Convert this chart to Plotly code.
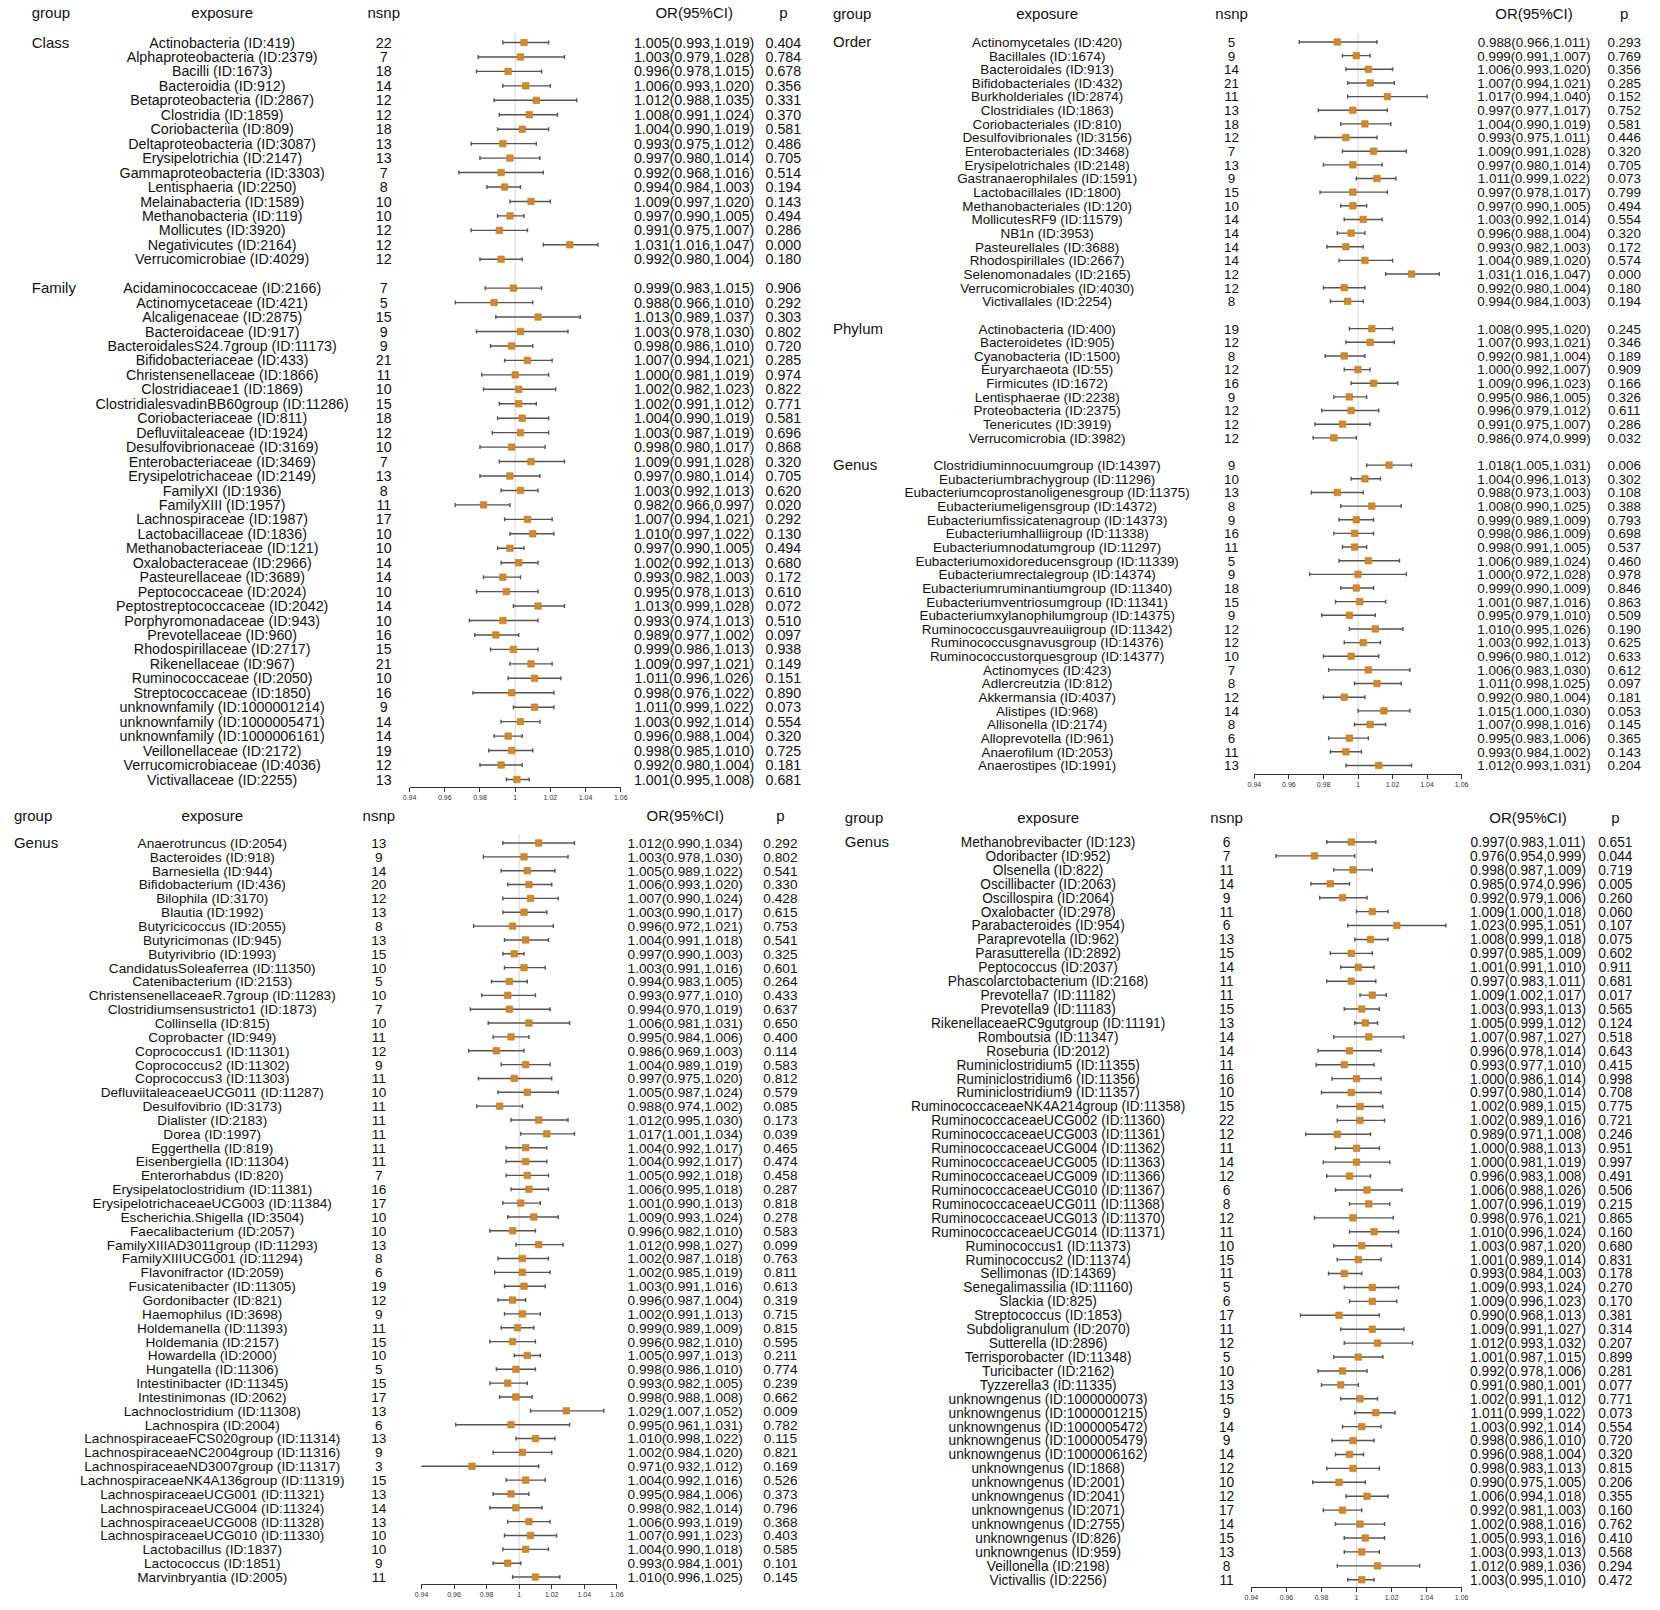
import plotly.graph_objects as go

W, H = 1660, 1610

# ---------------- DATA ----------------
# Top-left panel
tl_sections = ["Class", "Family"]
tl_counts = [16, 35]
tl_exposure = [
    "Actinobacteria (ID:419)", "Alphaproteobacteria (ID:2379)", "Bacilli (ID:1673)", "Bacteroidia (ID:912)",
    "Betaproteobacteria (ID:2867)", "Clostridia (ID:1859)", "Coriobacteriia (ID:809)", "Deltaproteobacteria (ID:3087)",
    "Erysipelotrichia (ID:2147)", "Gammaproteobacteria (ID:3303)", "Lentisphaeria (ID:2250)", "Melainabacteria (ID:1589)",
    "Methanobacteria (ID:119)", "Mollicutes (ID:3920)", "Negativicutes (ID:2164)", "Verrucomicrobiae (ID:4029)",
    "Acidaminococcaceae (ID:2166)", "Actinomycetaceae (ID:421)", "Alcaligenaceae (ID:2875)", "Bacteroidaceae (ID:917)",
    "BacteroidalesS24.7group (ID:11173)", "Bifidobacteriaceae (ID:433)", "Christensenellaceae (ID:1866)",
    "Clostridiaceae1 (ID:1869)", "ClostridialesvadinBB60group (ID:11286)", "Coriobacteriaceae (ID:811)",
    "Defluviitaleaceae (ID:1924)", "Desulfovibrionaceae (ID:3169)", "Enterobacteriaceae (ID:3469)",
    "Erysipelotrichaceae (ID:2149)", "FamilyXI (ID:1936)", "FamilyXIII (ID:1957)", "Lachnospiraceae (ID:1987)",
    "Lactobacillaceae (ID:1836)", "Methanobacteriaceae (ID:121)", "Oxalobacteraceae (ID:2966)",
    "Pasteurellaceae (ID:3689)", "Peptococcaceae (ID:2024)", "Peptostreptococcaceae (ID:2042)",
    "Porphyromonadaceae (ID:943)", "Prevotellaceae (ID:960)", "Rhodospirillaceae (ID:2717)", "Rikenellaceae (ID:967)",
    "Ruminococcaceae (ID:2050)", "Streptococcaceae (ID:1850)", "unknownfamily (ID:1000001214)",
    "unknownfamily (ID:1000005471)", "unknownfamily (ID:1000006161)", "Veillonellaceae (ID:2172)",
    "Verrucomicrobiaceae (ID:4036)", "Victivallaceae (ID:2255)",
]
tl_nsnp = [22, 7, 18, 14, 12, 12, 18, 13, 13, 7, 8, 10, 10, 12, 12, 12,
           7, 5, 15, 9, 9, 21, 11, 10, 15, 18, 12, 10, 7, 13, 8, 11, 17, 10, 10, 14, 14, 10, 14, 10, 16, 15, 21,
           10, 16, 9, 14, 14, 19, 12, 13]
tl_or = [1.005, 1.003, 0.996, 1.006, 1.012, 1.008, 1.004, 0.993, 0.997, 0.992, 0.994, 1.009, 0.997, 0.991, 1.031, 0.992,
         0.999, 0.988, 1.013, 1.003, 0.998, 1.007, 1.000, 1.002, 1.002, 1.004, 1.003, 0.998, 1.009, 0.997, 1.003, 0.982,
         1.007, 1.010, 0.997, 1.002, 0.993, 0.995, 1.013, 0.993, 0.989, 0.999, 1.009, 1.011, 0.998, 1.011, 1.003,
         0.996, 0.998, 0.992, 1.001]
tl_lo = [0.993, 0.979, 0.978, 0.993, 0.988, 0.991, 0.990, 0.975, 0.980, 0.968, 0.984, 0.997, 0.990, 0.975, 1.016, 0.980,
         0.983, 0.966, 0.989, 0.978, 0.986, 0.994, 0.981, 0.982, 0.991, 0.990, 0.987, 0.980, 0.991, 0.980, 0.992, 0.966,
         0.994, 0.997, 0.990, 0.992, 0.982, 0.978, 0.999, 0.974, 0.977, 0.986, 0.997, 0.996, 0.976, 0.999, 0.992,
         0.988, 0.985, 0.980, 0.995]
tl_hi = [1.019, 1.028, 1.015, 1.020, 1.035, 1.024, 1.019, 1.012, 1.014, 1.016, 1.003, 1.020, 1.005, 1.007, 1.047, 1.004,
         1.015, 1.010, 1.037, 1.030, 1.010, 1.021, 1.019, 1.023, 1.012, 1.019, 1.019, 1.017, 1.028, 1.014, 1.013, 0.997,
         1.021, 1.022, 1.005, 1.013, 1.003, 1.013, 1.028, 1.013, 1.002, 1.013, 1.021, 1.026, 1.022, 1.022, 1.014,
         1.004, 1.010, 1.004, 1.008]
tl_p = [0.404, 0.784, 0.678, 0.356, 0.331, 0.370, 0.581, 0.486, 0.705, 0.514, 0.194, 0.143, 0.494, 0.286, 0.000, 0.180,
        0.906, 0.292, 0.303, 0.802, 0.720, 0.285, 0.974, 0.822, 0.771, 0.581, 0.696, 0.868, 0.320, 0.705, 0.620, 0.020,
        0.292, 0.130, 0.494, 0.680, 0.172, 0.610, 0.072, 0.510, 0.097, 0.938, 0.149, 0.151, 0.890, 0.073, 0.554,
        0.320, 0.725, 0.181, 0.681]

# Top-right panel
tr_sections = ["Order", "Phylum", "Genus"]
tr_counts = [20, 9, 23]
tr_exposure = [
    "Actinomycetales (ID:420)", "Bacillales (ID:1674)", "Bacteroidales (ID:913)", "Bifidobacteriales (ID:432)",
    "Burkholderiales (ID:2874)", "Clostridiales (ID:1863)", "Coriobacteriales (ID:810)", "Desulfovibrionales (ID:3156)",
    "Enterobacteriales (ID:3468)", "Erysipelotrichales (ID:2148)", "Gastranaerophilales (ID:1591)",
    "Lactobacillales (ID:1800)", "Methanobacteriales (ID:120)", "MollicutesRF9 (ID:11579)", "NB1n (ID:3953)",
    "Pasteurellales (ID:3688)", "Rhodospirillales (ID:2667)", "Selenomonadales (ID:2165)",
    "Verrucomicrobiales (ID:4030)", "Victivallales (ID:2254)",
    "Actinobacteria (ID:400)", "Bacteroidetes (ID:905)", "Cyanobacteria (ID:1500)", "Euryarchaeota (ID:55)",
    "Firmicutes (ID:1672)", "Lentisphaerae (ID:2238)", "Proteobacteria (ID:2375)", "Tenericutes (ID:3919)",
    "Verrucomicrobia (ID:3982)",
    "Clostridiuminnocuumgroup (ID:14397)", "Eubacteriumbrachygroup (ID:11296)",
    "Eubacteriumcoprostanoligenesgroup (ID:11375)", "Eubacteriumeligensgroup (ID:14372)",
    "Eubacteriumfissicatenagroup (ID:14373)", "Eubacteriumhalliigroup (ID:11338)",
    "Eubacteriumnodatumgroup (ID:11297)", "Eubacteriumoxidoreducensgroup (ID:11339)",
    "Eubacteriumrectalegroup (ID:14374)", "Eubacteriumruminantiumgroup (ID:11340)",
    "Eubacteriumventriosumgroup (ID:11341)", "Eubacteriumxylanophilumgroup (ID:14375)",
    "Ruminococcusgauvreauiigroup (ID:11342)", "Ruminococcusgnavusgroup (ID:14376)",
    "Ruminococcustorquesgroup (ID:14377)", "Actinomyces (ID:423)", "Adlercreutzia (ID:812)",
    "Akkermansia (ID:4037)", "Alistipes (ID:968)", "Allisonella (ID:2174)", "Alloprevotella (ID:961)",
    "Anaerofilum (ID:2053)", "Anaerostipes (ID:1991)",
]
tr_nsnp = [5, 9, 14, 21, 11, 13, 18, 12, 7, 13, 9, 15, 10, 14, 14, 14, 14, 12, 12, 8,
           19, 12, 8, 12, 16, 9, 12, 12, 12,
           9, 10, 13, 8, 9, 16, 11, 5, 9, 18, 15, 9, 12, 12, 10, 7, 8, 12, 14, 8, 6, 11, 13]
tr_or = [0.988, 0.999, 1.006, 1.007, 1.017, 0.997, 1.004, 0.993, 1.009, 0.997, 1.011, 0.997, 0.997, 1.003, 0.996,
         0.993, 1.004, 1.031, 0.992, 0.994,
         1.008, 1.007, 0.992, 1.000, 1.009, 0.995, 0.996, 0.991, 0.986,
         1.018, 1.004, 0.988, 1.008, 0.999, 0.998, 0.998, 1.006, 1.000, 0.999, 1.001, 0.995, 1.010, 1.003, 0.996,
         1.006, 1.011, 0.992, 1.015, 1.007, 0.995, 0.993, 1.012]
tr_lo = [0.966, 0.991, 0.993, 0.994, 0.994, 0.977, 0.990, 0.975, 0.991, 0.980, 0.999, 0.978, 0.990, 0.992, 0.988,
         0.982, 0.989, 1.016, 0.980, 0.984,
         0.995, 0.993, 0.981, 0.992, 0.996, 0.986, 0.979, 0.975, 0.974,
         1.005, 0.996, 0.973, 0.990, 0.989, 0.986, 0.991, 0.989, 0.972, 0.990, 0.987, 0.979, 0.995, 0.992, 0.980,
         0.983, 0.998, 0.980, 1.000, 0.998, 0.983, 0.984, 0.993]
tr_hi = [1.011, 1.007, 1.020, 1.021, 1.040, 1.017, 1.019, 1.011, 1.028, 1.014, 1.022, 1.017, 1.005, 1.014, 1.004,
         1.003, 1.020, 1.047, 1.004, 1.003,
         1.020, 1.021, 1.004, 1.007, 1.023, 1.005, 1.012, 1.007, 0.999,
         1.031, 1.013, 1.003, 1.025, 1.009, 1.009, 1.005, 1.024, 1.028, 1.009, 1.016, 1.010, 1.026, 1.013, 1.012,
         1.030, 1.025, 1.004, 1.030, 1.016, 1.006, 1.002, 1.031]
tr_p = [0.293, 0.769, 0.356, 0.285, 0.152, 0.752, 0.581, 0.446, 0.320, 0.705, 0.073, 0.799, 0.494, 0.554, 0.320,
        0.172, 0.574, 0.000, 0.180, 0.194,
        0.245, 0.346, 0.189, 0.909, 0.166, 0.326, 0.611, 0.286, 0.032,
        0.006, 0.302, 0.108, 0.388, 0.793, 0.698, 0.537, 0.460, 0.978, 0.846, 0.863, 0.509, 0.190, 0.625, 0.633,
        0.612, 0.097, 0.181, 0.053, 0.145, 0.365, 0.143, 0.204]

# Bottom-left panel
bl_sections = ["Genus"]
bl_counts = [54]
bl_exposure = [
    "Anaerotruncus (ID:2054)", "Bacteroides (ID:918)", "Barnesiella (ID:944)", "Bifidobacterium (ID:436)",
    "Bilophila (ID:3170)", "Blautia (ID:1992)", "Butyricicoccus (ID:2055)", "Butyricimonas (ID:945)",
    "Butyrivibrio (ID:1993)", "CandidatusSoleaferrea (ID:11350)", "Catenibacterium (ID:2153)",
    "ChristensenellaceaeR.7group (ID:11283)", "Clostridiumsensustricto1 (ID:1873)", "Collinsella (ID:815)",
    "Coprobacter (ID:949)", "Coprococcus1 (ID:11301)", "Coprococcus2 (ID:11302)", "Coprococcus3 (ID:11303)",
    "DefluviitaleaceaeUCG011 (ID:11287)", "Desulfovibrio (ID:3173)", "Dialister (ID:2183)", "Dorea (ID:1997)",
    "Eggerthella (ID:819)", "Eisenbergiella (ID:11304)", "Enterorhabdus (ID:820)",
    "Erysipelatoclostridium (ID:11381)", "ErysipelotrichaceaeUCG003 (ID:11384)", "Escherichia.Shigella (ID:3504)",
    "Faecalibacterium (ID:2057)", "FamilyXIIIAD3011group (ID:11293)", "FamilyXIIIUCG001 (ID:11294)",
    "Flavonifractor (ID:2059)", "Fusicatenibacter (ID:11305)", "Gordonibacter (ID:821)", "Haemophilus (ID:3698)",
    "Holdemanella (ID:11393)", "Holdemania (ID:2157)", "Howardella (ID:2000)", "Hungatella (ID:11306)",
    "Intestinibacter (ID:11345)", "Intestinimonas (ID:2062)", "Lachnoclostridium (ID:11308)",
    "Lachnospira (ID:2004)", "LachnospiraceaeFCS020group (ID:11314)", "LachnospiraceaeNC2004group (ID:11316)",
    "LachnospiraceaeND3007group (ID:11317)", "LachnospiraceaeNK4A136group (ID:11319)",
    "LachnospiraceaeUCG001 (ID:11321)", "LachnospiraceaeUCG004 (ID:11324)", "LachnospiraceaeUCG008 (ID:11328)",
    "LachnospiraceaeUCG010 (ID:11330)", "Lactobacillus (ID:1837)", "Lactococcus (ID:1851)",
    "Marvinbryantia (ID:2005)",
]
bl_nsnp = [13, 9, 14, 20, 12, 13, 8, 13, 15, 10, 5, 10, 7, 10, 11, 12, 9, 11, 10, 11, 11, 11, 11, 11, 7, 16, 17,
           10, 10, 13, 8, 6, 19, 12, 9, 11, 15, 10, 5, 15, 17, 13, 6, 13, 9, 3, 15, 13, 14, 13, 10, 10, 9, 11]
bl_or = [1.012, 1.003, 1.005, 1.006, 1.007, 1.003, 0.996, 1.004, 0.997, 1.003, 0.994, 0.993, 0.994, 1.006, 0.995,
         0.986, 1.004, 0.997, 1.005, 0.988, 1.012, 1.017, 1.004, 1.004, 1.005, 1.006, 1.001, 1.009, 0.996, 1.012,
         1.002, 1.002, 1.003, 0.996, 1.002, 0.999, 0.996, 1.005, 0.998, 0.993, 0.998, 1.029, 0.995, 1.010, 1.002,
         0.971, 1.004, 0.995, 0.998, 1.006, 1.007, 1.004, 0.993, 1.010]
bl_lo = [0.990, 0.978, 0.989, 0.993, 0.990, 0.990, 0.972, 0.991, 0.990, 0.991, 0.983, 0.977, 0.970, 0.981, 0.984,
         0.969, 0.989, 0.975, 0.987, 0.974, 0.995, 1.001, 0.992, 0.992, 0.992, 0.995, 0.990, 0.993, 0.982, 0.998,
         0.987, 0.985, 0.991, 0.987, 0.991, 0.989, 0.982, 0.997, 0.986, 0.982, 0.988, 1.007, 0.961, 0.998, 0.984,
         0.932, 0.992, 0.984, 0.982, 0.993, 0.991, 0.990, 0.984, 0.996]
bl_hi = [1.034, 1.030, 1.022, 1.020, 1.024, 1.017, 1.021, 1.018, 1.003, 1.016, 1.005, 1.010, 1.019, 1.031, 1.006,
         1.003, 1.019, 1.020, 1.024, 1.002, 1.030, 1.034, 1.017, 1.017, 1.018, 1.018, 1.013, 1.024, 1.010, 1.027,
         1.018, 1.019, 1.016, 1.004, 1.013, 1.009, 1.010, 1.013, 1.010, 1.005, 1.008, 1.052, 1.031, 1.022, 1.020,
         1.012, 1.016, 1.006, 1.014, 1.019, 1.023, 1.018, 1.001, 1.025]
bl_p = [0.292, 0.802, 0.541, 0.330, 0.428, 0.615, 0.753, 0.541, 0.325, 0.601, 0.264, 0.433, 0.637, 0.650, 0.400,
        0.114, 0.583, 0.812, 0.579, 0.085, 0.173, 0.039, 0.465, 0.474, 0.458, 0.287, 0.818, 0.278, 0.583, 0.099,
        0.763, 0.811, 0.613, 0.319, 0.715, 0.815, 0.595, 0.211, 0.774, 0.239, 0.662, 0.009, 0.782, 0.115, 0.821,
        0.169, 0.526, 0.373, 0.796, 0.368, 0.403, 0.585, 0.101, 0.145]

# Bottom-right panel
br_sections = ["Genus"]
br_counts = [54]
br_exposure = [
    "Methanobrevibacter (ID:123)", "Odoribacter (ID:952)", "Olsenella (ID:822)", "Oscillibacter (ID:2063)",
    "Oscillospira (ID:2064)", "Oxalobacter (ID:2978)", "Parabacteroides (ID:954)", "Paraprevotella (ID:962)",
    "Parasutterella (ID:2892)", "Peptococcus (ID:2037)", "Phascolarctobacterium (ID:2168)",
    "Prevotella7 (ID:11182)", "Prevotella9 (ID:11183)", "RikenellaceaeRC9gutgroup (ID:11191)",
    "Romboutsia (ID:11347)", "Roseburia (ID:2012)", "Ruminiclostridium5 (ID:11355)",
    "Ruminiclostridium6 (ID:11356)", "Ruminiclostridium9 (ID:11357)", "RuminococcaceaeNK4A214group (ID:11358)",
    "RuminococcaceaeUCG002 (ID:11360)", "RuminococcaceaeUCG003 (ID:11361)", "RuminococcaceaeUCG004 (ID:11362)",
    "RuminococcaceaeUCG005 (ID:11363)", "RuminococcaceaeUCG009 (ID:11366)", "RuminococcaceaeUCG010 (ID:11367)",
    "RuminococcaceaeUCG011 (ID:11368)", "RuminococcaceaeUCG013 (ID:11370)", "RuminococcaceaeUCG014 (ID:11371)",
    "Ruminococcus1 (ID:11373)", "Ruminococcus2 (ID:11374)", "Sellimonas (ID:14369)",
    "Senegalimassilia (ID:11160)", "Slackia (ID:825)", "Streptococcus (ID:1853)", "Subdoligranulum (ID:2070)",
    "Sutterella (ID:2896)", "Terrisporobacter (ID:11348)", "Turicibacter (ID:2162)", "Tyzzerella3 (ID:11335)",
    "unknowngenus (ID:1000000073)", "unknowngenus (ID:1000001215)", "unknowngenus (ID:1000005472)",
    "unknowngenus (ID:1000005479)", "unknowngenus (ID:1000006162)", "unknowngenus (ID:1868)",
    "unknowngenus (ID:2001)", "unknowngenus (ID:2041)", "unknowngenus (ID:2071)", "unknowngenus (ID:2755)",
    "unknowngenus (ID:826)", "unknowngenus (ID:959)", "Veillonella (ID:2198)", "Victivallis (ID:2256)",
]
br_nsnp = [6, 7, 11, 14, 9, 11, 6, 13, 15, 14, 11, 11, 15, 13, 14, 14, 11, 16, 10, 15, 22, 12, 11, 14, 12, 6, 8,
           12, 11, 10, 15, 11, 5, 6, 17, 11, 12, 5, 10, 13, 15, 9, 14, 9, 14, 12, 10, 12, 17, 14, 15, 13, 8, 11]
br_or = [0.997, 0.976, 0.998, 0.985, 0.992, 1.009, 1.023, 1.008, 0.997, 1.001, 0.997, 1.009, 1.003, 1.005, 1.007,
         0.996, 0.993, 1.000, 0.997, 1.002, 1.002, 0.989, 1.000, 1.000, 0.996, 1.006, 1.007, 0.998, 1.010, 1.003,
         1.001, 0.993, 1.009, 1.009, 0.990, 1.009, 1.012, 1.001, 0.992, 0.991, 1.002, 1.011, 1.003, 0.998, 0.996,
         0.998, 0.990, 1.006, 0.992, 1.002, 1.005, 1.003, 1.012, 1.003]
br_lo = [0.983, 0.954, 0.987, 0.974, 0.979, 1.000, 0.995, 0.999, 0.985, 0.991, 0.983, 1.002, 0.993, 0.999, 0.987,
         0.978, 0.977, 0.986, 0.980, 0.989, 0.989, 0.971, 0.988, 0.981, 0.983, 0.988, 0.996, 0.976, 0.996, 0.987,
         0.989, 0.984, 0.993, 0.996, 0.968, 0.991, 0.993, 0.987, 0.978, 0.980, 0.991, 0.999, 0.992, 0.986, 0.988,
         0.983, 0.975, 0.994, 0.981, 0.988, 0.993, 0.993, 0.989, 0.995]
br_hi = [1.011, 0.999, 1.009, 0.996, 1.006, 1.018, 1.051, 1.018, 1.009, 1.010, 1.011, 1.017, 1.013, 1.012, 1.027,
         1.014, 1.010, 1.014, 1.014, 1.015, 1.016, 1.008, 1.013, 1.019, 1.008, 1.026, 1.019, 1.021, 1.024, 1.020,
         1.014, 1.003, 1.024, 1.023, 1.013, 1.027, 1.032, 1.015, 1.006, 1.001, 1.012, 1.022, 1.014, 1.010, 1.004,
         1.013, 1.005, 1.018, 1.003, 1.016, 1.016, 1.013, 1.036, 1.010]
br_p = [0.651, 0.044, 0.719, 0.005, 0.260, 0.060, 0.107, 0.075, 0.602, 0.911, 0.681, 0.017, 0.565, 0.124, 0.518,
        0.643, 0.415, 0.998, 0.708, 0.775, 0.721, 0.246, 0.951, 0.997, 0.491, 0.506, 0.215, 0.865, 0.160, 0.680,
        0.831, 0.178, 0.270, 0.170, 0.381, 0.314, 0.207, 0.899, 0.281, 0.077, 0.771, 0.073, 0.554, 0.720, 0.320,
        0.815, 0.206, 0.355, 0.160, 0.762, 0.410, 0.568, 0.294, 0.472]

header_labels = ["group", "exposure", "nsnp", "OR(95%CI)", "p"]
tick_vals = [0.94, 0.96, 0.98, 1.00, 1.02, 1.04, 1.06]
tick_text = ["0.94", "0.96", "0.98", "1", "1.02", "1.04", "1.06"]

# ---------------- LAYOUT (pixel positions) ----------------
panels = [
    dict(sec=tl_sections, cnt=tl_counts, exp=tl_exposure, nsnp=tl_nsnp, orv=tl_or, lo=tl_lo, hi=tl_hi, p=tl_p,
         y0=42.5, dy=14.45, hdr=14, axis=787, gx=25, ex=217, nx=380, ox=693, px=783, f0=406, f1=619),
    dict(sec=tr_sections, cnt=tr_counts, exp=tr_exposure, nsnp=tr_nsnp, orv=tr_or, lo=tr_lo, hi=tr_hi, p=tr_p,
         y0=42.0, dy=13.65, hdr=15, axis=774, gx=833, ex=1049, nx=1235, ox=1540, px=1631, f0=1258, f1=1467),
    dict(sec=bl_sections, cnt=bl_counts, exp=bl_exposure, nsnp=bl_nsnp, orv=bl_or, lo=bl_lo, hi=bl_hi, p=bl_p,
         y0=843, dy=13.85, hdr=817, axis=1584, gx=7, ex=207, nx=375, ox=684, px=780, f0=418, f1=615),
    dict(sec=br_sections, cnt=br_counts, exp=br_exposure, nsnp=br_nsnp, orv=br_or, lo=br_lo, hi=br_hi, p=br_p,
         y0=842, dy=13.92, hdr=819, axis=1587, gx=845, ex=1050, nx=1230, ox=1534, px=1622, f0=1255, f1=1467),
]

FONT = "Liberation Sans, Arial, Helvetica, sans-serif"
HFS = 15           # header font size
TXT = "#111111"
TEXT_SHIFT = 1.5   # px: plotly draws text slightly above its anchor

fig = go.Figure()
layout = dict(width=W, height=H, margin=dict(l=0, r=0, t=0, b=0), paper_bgcolor="white",
              plot_bgcolor="rgba(0,0,0,0)", showlegend=False, font=dict(family=FONT, size=HFS, color=TXT))
shapes = []


def yax(y0, dy, top_px, bot_px):
    top_px = max(0.0, top_px)
    bot_px = min(float(H), bot_px)
    return dict(domain=[1 - bot_px / H, 1 - top_px / H],
                range=[(bot_px - y0) / dy, (top_px - y0) / dy],
                visible=False, showgrid=False, zeroline=False, fixedrange=True)


def sid(n):
    return "" if n == 1 else str(n)


for k, P in enumerate(panels):
    fi = sid(k + 1)      # forest axes id
    ti = sid(k + 5)      # text axes id
    rows, grow, idx = [], [], 0
    for c in P["cnt"]:
        grow.append(idx)
        rows.extend(range(idx, idx + c))
        idx += c + 1
    last = idx - 2
    y0, dy = P["y0"], P["dy"]
    ylast_px = y0 + last * dy
    fs = round(dy - 0.2, 2)   # row text size so neighbouring rows just touch

    layout[f"xaxis{fi}"] = dict(domain=[P["f0"] / W, P["f1"] / W], range=[0.94, 1.06], anchor=f"y{fi}",
                                tickvals=tick_vals, ticktext=tick_text, ticks="outside", ticklen=4,
                                tickwidth=1, tickcolor="#333333", showline=True, linecolor="#333333",
                                linewidth=1, showgrid=False, zeroline=False, fixedrange=True,
                                tickfont=dict(size=7, color="#333333", family=FONT))
    layout[f"yaxis{fi}"] = dict(yax(y0, dy, y0 - 0.65 * dy, P["axis"]), anchor=f"x{fi}")
    layout[f"xaxis{ti}"] = dict(domain=[0, 1], range=[0, W], anchor=f"y{ti}", visible=False,
                                showgrid=False, zeroline=False, fixedrange=True)
    ty0 = y0 + TEXT_SHIFT
    layout[f"yaxis{ti}"] = dict(yax(ty0, dy, P["hdr"] - 12, ylast_px + dy), anchor=f"x{ti}")

    shapes.append(dict(type="line", xref=f"x{fi}", yref=f"y{fi} domain", x0=1, x1=1, y0=0, y1=1,
                       line=dict(color="#d6d6d6", width=1), layer="below"))

    orv, lo, hi = P["orv"], P["lo"], P["hi"]
    fig.add_trace(go.Scatter(
        x=orv, y=rows, mode="markers", xaxis=f"x{fi}", yaxis=f"y{fi}", hoverinfo="skip", cliponaxis=False,
        marker=dict(symbol="square", size=6.5, color="#D08A2C", line=dict(color="#BE7A1E", width=0.6)),
        error_x=dict(type="data", symmetric=False, array=[h - o for h, o in zip(hi, orv)],
                     arrayminus=[o - l for o, l in zip(orv, lo)], color="#555555", thickness=1.4, width=2)))

    hdr_row = (P["hdr"] - ty0) / dy
    base = dict(xaxis=f"x{ti}", yaxis=f"y{ti}", mode="text", hoverinfo="skip", cliponaxis=False)
    th = dict(base, textfont=dict(family=FONT, size=HFS, color=TXT))
    tx = dict(base, textfont=dict(family=FONT, size=fs, color=TXT))
    fig.add_trace(go.Scatter(x=[P["gx"]], y=[hdr_row], text=[header_labels[0]],
                             textposition="middle right", **th))
    fig.add_trace(go.Scatter(x=[P["ex"], P["nx"], P["ox"], P["px"]], y=[hdr_row] * 4,
                             text=header_labels[1:], textposition="middle center", **th))
    fig.add_trace(go.Scatter(x=[P["gx"]] * len(grow), y=grow, text=P["sec"],
                             textposition="middle right", **th))
    fig.add_trace(go.Scatter(x=[P["ex"]] * len(rows), y=rows, text=P["exp"],
                             textposition="middle center", **tx))
    fig.add_trace(go.Scatter(x=[P["nx"]] * len(rows), y=rows, text=[str(n) for n in P["nsnp"]],
                             textposition="middle center", **tx))
    fig.add_trace(go.Scatter(x=[P["ox"]] * len(rows), y=rows,
                             text=[f"{o:.3f}({l:.3f},{h:.3f})" for o, l, h in zip(orv, lo, hi)],
                             textposition="middle center", **tx))
    fig.add_trace(go.Scatter(x=[P["px"]] * len(rows), y=rows, text=[f"{v:.3f}" for v in P["p"]],
                             textposition="middle center", **tx))

layout["shapes"] = shapes
fig.update_layout(**layout)
fig.write_html("out.html", config={"displayModeBar": False},
               post_script="document.body.style.margin='0px';")
